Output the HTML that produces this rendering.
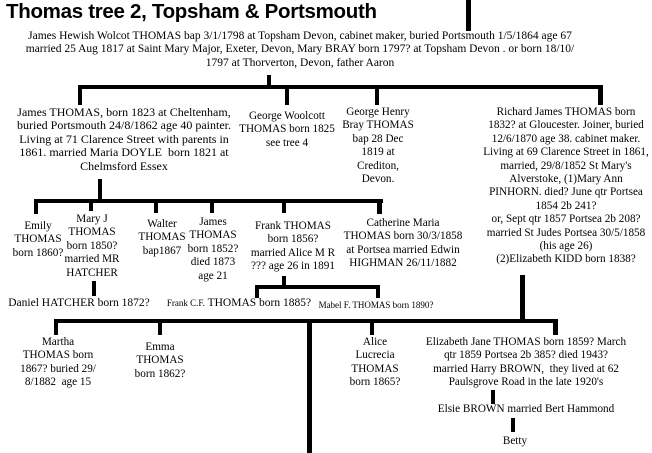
<!DOCTYPE html>
<html><head><meta charset="utf-8"><style>
body{margin:0;width:652px;height:453px;background:#fff;position:relative;overflow:hidden}
.t{position:absolute;font-family:"Liberation Serif",serif;font-size:11.2px;line-height:13.4px;text-align:center;color:#000;white-space:nowrap;transform:translateX(-50%)}
.l{position:absolute;background:#000}
h1{position:absolute;left:6px;top:0px;margin:0;font-family:"Liberation Sans",sans-serif;font-weight:bold;font-size:20.5px;letter-spacing:-0.3px;white-space:nowrap;line-height:24px}
</style></head><body>
<h1>Thomas tree 2, Topsham &amp; Portsmouth</h1>
<div class="l" style="left:466px;top:0;width:5px;height:31px"></div>
<div class="l" style="left:267px;top:75px;width:4px;height:12px"></div>
<div class="l" style="left:78px;top:85px;width:525px;height:4px"></div>
<div class="l" style="left:78px;top:85px;width:4px;height:20px"></div>
<div class="l" style="left:285px;top:85px;width:4px;height:20px"></div>
<div class="l" style="left:375px;top:85px;width:4px;height:20px"></div>
<div class="l" style="left:598px;top:85px;width:5px;height:20px"></div>
<div class="l" style="left:98px;top:179px;width:4px;height:22px"></div>
<div class="l" style="left:34px;top:199px;width:349px;height:4px"></div>
<div class="l" style="left:34px;top:199px;width:4px;height:15px"></div>
<div class="l" style="left:89px;top:199px;width:4px;height:12px"></div>
<div class="l" style="left:154px;top:199px;width:4px;height:14px"></div>
<div class="l" style="left:210px;top:199px;width:4px;height:14px"></div>
<div class="l" style="left:282px;top:199px;width:4px;height:14px"></div>
<div class="l" style="left:377px;top:199px;width:5px;height:15px"></div>
<div class="l" style="left:92px;top:281px;width:4px;height:15px"></div>
<div class="l" style="left:282px;top:276px;width:4px;height:11px"></div>
<div class="l" style="left:255px;top:285px;width:125px;height:4px"></div>
<div class="l" style="left:255px;top:285px;width:4px;height:13px"></div>
<div class="l" style="left:376px;top:285px;width:4px;height:13px"></div>
<div class="l" style="left:520px;top:275px;width:5px;height:47px"></div>
<div class="l" style="left:54px;top:319px;width:504px;height:4px"></div>
<div class="l" style="left:54px;top:319px;width:4px;height:16px"></div>
<div class="l" style="left:158px;top:319px;width:4px;height:16px"></div>
<div class="l" style="left:370px;top:319px;width:4px;height:16px"></div>
<div class="l" style="left:553px;top:319px;width:5px;height:16px"></div>
<div class="l" style="left:307px;top:319px;width:5px;height:134px"></div>
<div class="l" style="left:491px;top:390px;width:4px;height:14px"></div>
<div class="l" style="left:511px;top:418px;width:4px;height:14px"></div>
<div class="t" style="left:300px;top:30px;font-size:11.5px">James Hewish Wolcot THOMAS bap 3/1/1798 at Topsham Devon, cabinet maker, buried Portsmouth 1/5/1864 age 67<br>married 25 Aug 1817 at Saint Mary Major, Exeter, Devon, Mary BRAY born 1797? at Topsham Devon . or born 18/10/<br>1797 at Thorverton, Devon, father Aaron</div>
<div class="t" style="left:124px;top:106px;font-size:12px">James THOMAS, born 1823 at Cheltenham,<br>buried Portsmouth 24/8/1862 age 40 painter.<br>Living at 71 Clarence Street with parents in<br>1861. married Maria DOYLE &nbsp;born 1821 at<br>Chelmsford Essex</div>
<div class="t" style="left:287px;top:110px">George Woolcott<br>THOMAS born 1825<br>see tree 4</div>
<div class="t" style="left:378px;top:106px">George Henry<br>Bray THOMAS<br>bap 28 Dec<br>1819 at<br>Crediton,<br>Devon.</div>
<div class="t" style="left:566px;top:106px">Richard James THOMAS born<br>1832? at Gloucester. Joiner, buried<br>12/6/1870 age 38. cabinet maker.<br>Living at 69 Clarence Street in 1861,<br>married, 29/8/1852 St Mary's<br>Alverstoke, (1)Mary Ann<br>PINHORN. died? June qtr Portsea<br>1854 2b 241?<br>or, Sept qtr 1857 Portsea 2b 208?<br>married St Judes Portsea 30/5/1858<br>(his age 26)<br>(2)Elizabeth KIDD born 1838?</div>
<div class="t" style="left:38px;top:220px">Emily<br>THOMAS<br>born 1860?</div>
<div class="t" style="left:92px;top:213px">Mary J<br>THOMAS<br>born 1850?<br>married MR<br>HATCHER</div>
<div class="t" style="left:162px;top:218px">Walter<br>THOMAS<br>bap1867</div>
<div class="t" style="left:213px;top:216px">James<br>THOMAS<br>born 1852?<br>died 1873<br>age 21</div>
<div class="t" style="left:293px;top:220px">Frank THOMAS<br>born 1856?<br>married Alice M R<br>??? age 26 in 1891</div>
<div class="t" style="left:403px;top:217px">Catherine Maria<br>THOMAS born 30/3/1858<br>at Portsea married Edwin<br>HIGHMAN 26/11/1882</div>
<div class="t" style="left:79px;top:297px;font-size:11.5px">Daniel HATCHER born 1872?</div>
<div class="t" style="left:239px;top:297px;font-size:11.5px"><span style="font-size:9px">Frank C.F.</span> THOMAS born 1885?</div>
<div class="t" style="left:376px;top:299px;font-size:9px">Mabel F. THOMAS born 1890?</div>
<div class="t" style="left:58px;top:336px">Martha<br>THOMAS born<br>1867? buried 29/<br>8/1882 &nbsp;age 15</div>
<div class="t" style="left:160px;top:341px">Emma<br>THOMAS<br>born 1862?</div>
<div class="t" style="left:375px;top:336px">Alice<br>Lucrecia<br>THOMAS<br>born 1865?</div>
<div class="t" style="left:526px;top:336px">Elizabeth Jane THOMAS born 1859? March<br>qtr 1859 Portsea 2b 385? died 1943?<br>married Harry BROWN, &nbsp;they lived at 62<br>Paulsgrove Road in the late 1920's</div>
<div class="t" style="left:526px;top:403px">Elsie BROWN married Bert Hammond</div>
<div class="t" style="left:515px;top:435px">Betty</div>
</body></html>
